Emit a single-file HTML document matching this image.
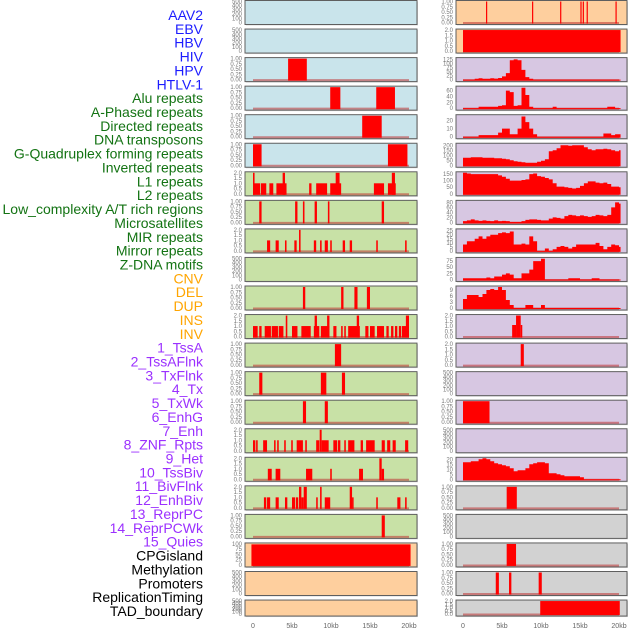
<!DOCTYPE html>
<html><head><meta charset="utf-8"><style>
html,body{margin:0;padding:0;background:#fff;width:630px;height:630px;overflow:hidden}
svg{display:block;font-family:"Liberation Sans",sans-serif}
</style></head><body>
<svg id="chart" width="630" height="630" viewBox="0 0 630 630" xmlns="http://www.w3.org/2000/svg"></svg>
<script>
const trackLabels = ["AAV2","EBV","HBV","HIV","HPV","HTLV-1","Alu repeats","A-Phased repeats","Directed repeats","DNA transposons","G-Quadruplex forming repeats","Inverted repeats","L1 repeats","L2 repeats","Low_complexity A/T rich regions","Microsatellites","MIR repeats","Mirror repeats","Z-DNA motifs","CNV","DEL","DUP","INS","INV","1_TssA","2_TssAFlnk","3_TxFlnk","4_Tx","5_TxWk","6_EnhG","7_Enh","8_ZNF_Rpts","9_Het","10_TssBiv","11_BivFlnk","12_EnhBiv","13_ReprPC","14_ReprPCWk","15_Quies","CPGisland","Methylation","Promoters","ReplicationTiming","TAD_boundary"];
const labelGroupColors = ["#1c1cff","#1c1cff","#1c1cff","#1c1cff","#1c1cff","#1c1cff","#137313","#137313","#137313","#137313","#137313","#137313","#137313","#137313","#137313","#137313","#137313","#137313","#137313","#ffa500","#ffa500","#ffa500","#ffa500","#ffa500","#9b30ff","#9b30ff","#9b30ff","#9b30ff","#9b30ff","#9b30ff","#9b30ff","#9b30ff","#9b30ff","#9b30ff","#9b30ff","#9b30ff","#9b30ff","#9b30ff","#9b30ff","#000","#000","#000","#000","#000"];
const xTickLabels = ["0","5kb","10kb","15kb","20kb"];
const xTickValues = [0,5,10,15,20];

const T500=[0,100,200,300,400,500], T1=[0,0.25,0.5,0.75,1], T2=[0,0.5,1,1.5,2];
const L1f=["0.00","0.25","0.50","0.75","1.00"], L2f=["0.0","0.5","1.0","1.5","2.0"];
const BLUE="#c9e4eb", GREEN="#c8e1a6", PEACH="#fecf9e", PURPLE="#d7c7e2", GREY="#d2d2d2";

const leftBg = [BLUE,BLUE,BLUE,BLUE,BLUE,BLUE,GREEN,GREEN,GREEN,GREEN,GREEN,GREEN,GREEN,GREEN,GREEN,GREEN,GREEN,GREEN,GREEN,PEACH,PEACH,PEACH];
const leftMax = [500,500,1,1,1,1,2,1,2,500,1,2,1,1,1,2,2,2,1,100,500,500];
const leftTicks = [T500,T500,T1,T1,T1,T1,T2,T1,T2,T500,T1,T2,T1,T1,T1,T2,T2,T2,T1,[0,25,50,75,100],T500,T500];
const leftSegments = [
 [],[],
 [[4.5,6.9,1]],
 [[9.9,11.2,1],[15.8,18.2,1]],
 [[14.0,16.5,1]],
 [[0,1.1,1],[17.3,19.8,1]],
 [[0,0.9,1],[1.0,1.7,1],[2.1,2.6,1],[3.0,4.3,1],[7.2,7.5,1],[8.1,9.5,1],[9.9,11.3,1],[15.5,16.8,1],[17.3,18.3,1],[0,0.2,2],[3.8,4.1,2],[10.6,11.1,2],[17.8,18.2,2]],
 [[0.8,1.1,1],[5.4,5.7,1],[6.4,6.6,1],[7.9,8.2,1],[9.6,9.8,1],[16.5,16.8,1]],
 [[1.8,2.2,1],[2.9,3.3,1],[4.1,4.3,1],[5.3,5.6,1],[5.9,6.1,2],[7.8,8.1,1],[8.6,8.8,1],[9.2,9.6,1],[9.9,10.1,1],[11.5,11.8,1],[12.4,12.7,1],[15.8,16.0,1],[19.5,19.7,1]],
 [],
 [[6.4,6.7,1],[11.3,11.6,1],[13.0,13.4,1],[14.6,15.0,1]],
 [[0,0.6,1],[0.8,1.1,1],[1.5,2.3,1],[2.4,3.2,1],[3.3,3.9,1],[5.0,5.7,1],[6.2,7.4,1],[7.8,8.5,1],[8.7,9.8,1],[10.3,10.7,1],[11.3,11.5,1],[11.7,11.9,1],[12.2,13.7,1],[14.4,14.8,1],[15.0,15.6,1],[15.9,16.8,1],[17.1,17.4,1],[17.7,18.0,1],[18.2,18.5,1],[18.7,19.0,1],[19.1,20.0,1],[4.2,4.4,2],[7.9,8.2,2],[9.5,9.8,2],[13.3,13.6,2],[19.6,20.0,2]],
 [[10.5,11.3,1]],
 [[0.8,1.2,1],[8.7,9.4,1],[11.4,11.8,1]],
 [[6.4,6.8,1],[9.2,9.6,1]],
 [[0,0.3,1],[0.4,0.6,1],[1.3,1.8,1],[2.7,2.9,1],[3.1,3.3,1],[4.0,4.2,1],[4.9,5.1,1],[5.6,6.4,1],[6.7,6.9,1],[8.1,8.5,1],[8.8,9.7,1],[10.3,10.8,1],[10.9,11.2,1],[11.7,11.9,1],[12.2,13.0,1],[13.8,14.1,1],[14.5,15.6,1],[16.5,16.9,1],[17.2,17.6,1],[17.9,18.3,1],[19.5,19.9,1],[8.55,8.8,2]],
 [[1.9,2.4,1],[2.9,3.5,1],[6.8,7.6,1],[9.9,10.1,1],[13.6,14.1,1],[16.5,16.8,1],[16.2,16.5,2]],
 [[1.4,1.7,1],[1.8,2.2,1],[2.9,3.3,1],[4.1,4.4,1],[5.0,5.4,1],[5.5,5.8,1],[6.2,6.5,1],[8.1,8.3,1],[9.2,9.9,1],[12.7,12.9,1],[15.8,16.0,1],[18.5,18.9,1],[19.5,19.7,1],[5.9,6.2,2],[6.5,6.9,2],[8.6,8.8,2],[12.4,12.7,2]],
 [[16.5,16.9,1]],
 [[-0.2,20.2,98]],
 [],[]
];

const rightBg = [PEACH,PEACH,PURPLE,PURPLE,PURPLE,PURPLE,PURPLE,PURPLE,PURPLE,PURPLE,PURPLE,PURPLE,PURPLE,PURPLE,PURPLE,PURPLE,PURPLE,GREY,GREY,GREY,GREY,GREY];
const rightMax = [1,2,130,72,26,210,160,84,26,86,10.5,2,2,500,1,500,21,1,500,1,1,2];
const rightTicks = [T1,T2,[0,25,50,75,100,125],[0,20,40,60],[0,10,20],[0,50,100,150,200],[0,50,100,150],[0,20,40,60,80],[0,5,10,15,20,25],[0,25,50,75],[0,3,6,9],T2,T2,T500,T1,T500,[0,5,10,15,20],T1,T500,T1,T1,T2];
const rightSegments = [
 [[2.95,3.1,1],[8.85,9.0,1],[12.45,12.6,1],[15.05,15.2,1],[15.35,15.5,1],[15.85,16.0,1],[19.55,19.7,1]],
 [[0,20.2,2]],
 [],[],[],[],[],[],[],[],[],
 [[6.3,6.8,1.1],[6.8,7.4,2],[7.4,7.6,1.1]],
 [[7.4,7.8,2]],
 [],
 [[0,3.4,1]],
 [],[],
 [[5.6,6.9,1]],
 [],
 [[5.6,6.8,1]],
 [[4.2,4.6,1],[5.9,6.2,1],[9.7,10.1,1]],
 [[9.9,20.1,2]]
];
// 0.5kb-bin profiles (bin i covers i*0.5 .. i*0.5+0.5 kb)
const hpvProfile   = [0,0,0,5,8,5,5,8,6,10,20,40,120,125,120,60,15,5,0,0,0,0,0,0,0,0,0,0,0,0,0,0,0,0,0,0,0,0,0,0,0];
const htlvProfile  = [0,0,0,0,5,5,5,5,5,8,10,60,55,8,10,70,45,5,0,0,0,0,0,5,0,0,0,0,0,0,0,0,0,0,0,0,0,5,5,0,0];
const aluProfile   = [0,0,0,0,2,2,2,2,2,5,10,10,3,3,10,25,18,10,3,0,0,0,0,0,0,0,0,0,0,0,0,0,0,0,0,0,4,4,2,3,3];
const aphProfile   = [75,75,80,80,80,75,75,75,70,70,65,60,50,40,35,30,25,25,25,35,45,60,140,150,170,200,200,195,200,200,200,180,160,150,160,160,165,160,150,140,150];
const dirProfile   = [160,155,150,150,150,150,150,150,150,140,130,115,100,100,100,105,110,150,155,135,130,120,110,80,55,55,50,45,40,45,60,80,95,95,85,80,85,75,55,55,50];
const dnaProfile   = [5,8,12,8,6,8,6,5,8,5,6,5,2,2,2,5,10,12,12,10,8,8,15,20,18,15,25,30,28,25,28,25,22,25,30,28,25,30,60,80,75];
const gquadProfile = [8,12,12,15,18,15,18,20,20,22,23,22,24,8,8,9,8,18,12,0,0,3,0,2,5,6,5,3,5,8,8,8,8,8,10,6,2,5,8,7,5];
const invProfile   = [5,5,5,5,5,5,8,5,12,12,20,25,20,5,5,25,25,40,75,75,85,0,0,0,0,0,0,5,5,5,0,0,0,5,5,0,0,0,0,0,0];
const l1Profile    = [4.5,6.5,6.5,6.5,5.5,7,9,9.5,9,10.5,9,4,1.5,0,0,0,1.5,1.5,0,0,1.5,0,0,0,0,0,0,0,0,0,0,0,0,0,0,0,0,0,0,0,0];
const lowProfile   = [17,17,18,18,20,21,20,18,16,15,14,13,11,8,9,9,11,15,16,17,17,16,6,6,5,4,3,3,3,3,2,0,0,0,0,0,0,0,0,0,0];
const rightProfiles = {2:hpvProfile,3:htlvProfile,4:aluProfile,5:aphProfile,6:dirProfile,7:dnaProfile,8:gquadProfile,9:invProfile,10:l1Profile,16:lowProfile};

const NS="http://www.w3.org/2000/svg";
const svg=document.getElementById('chart');
function mk(tag,attrs,parent){const e=document.createElementNS(NS,tag);for(const k in attrs)e.setAttribute(k,attrs[k]);(parent||svg).appendChild(e);return e;}
const xL=kb=>253+kb*7.8, xR=kb=>463+kb*7.8;
const rowTop=i=>0.5+i*28.55, rowH=i=>(i===21?16:24);
function fmtTick(v,ticks){if(ticks===T1)return L1f[ticks.indexOf(v)];if(ticks===T2)return L2f[ticks.indexOf(v)];return String(v);}

// labels
trackLabels.forEach((t,i)=>{
  const e=mk('text',{x:203,y:15+i*13.86+5,'text-anchor':'end','font-size':14,fill:labelGroupColors[i]});
  e.textContent=t;
  
  
});

function panel(side,i,bg,ymax,ticks,segs,profile){
  const px=side==='L'?245:456, pw=side==='L'?172:171, xf=side==='L'?xL:xR;
  const top=rowTop(i), h=rowH(i), bot=top+h;
  const y=v=>bot-2-(v/ymax)*(h-3);
  const g=mk('g',{});
  
  
  mk('rect',{x:px+1,y:top+1,width:pw,height:h,fill:'#d8d8d8'},g);
  mk('rect',{x:px,y:top,width:pw,height:h,fill:bg,stroke:'#5f5f5f','stroke-width':1},g);
  const hasData=segs.length>0||profile;
  if(hasData){
    mk('line',{x1:xf(0),x2:xf(20),y1:bot-1.5,y2:bot-1.5,stroke:'rgba(190,50,50,0.55)','stroke-width':2},g);
  }
  segs.forEach(s=>{
    const yy=Math.max(top+0.5,y(s[2]));
    const r=mk('rect',{x:xf(s[0]),y:yy,width:Math.max(1.2,xf(s[1])-xf(s[0])),height:bot-1-yy,fill:'#ff0000'},g);
    
    
  });
  if(profile){
    let d='M'+xf(0)+','+(bot-1);
    profile.forEach((v,k)=>{const x0=xf(Math.min(k*0.5,20.2)),x1=xf(Math.min(k*0.5+0.5,20.2));const yy=Math.max(top+0.5,y(v));d+=' L'+x0+','+yy+' L'+x1+','+yy;});
    d+=' L'+xf(20.2)+','+(bot-1)+' Z';
    const p=mk('path',{d:d,fill:'#ff0000'},g);
    
    
  }
  ticks.forEach(v=>{
    const t=mk('text',{x:px-3,y:y(v)+2,'text-anchor':'end','font-size':6,fill:'#777'},g);
    t.textContent=fmtTick(v,ticks);
    
    
  });
}
for(let i=0;i<22;i++){
  panel('L',i,leftBg[i],leftMax[i],leftTicks[i],leftSegments[i],null);
  panel('R',i,rightBg[i],rightMax[i],rightTicks[i],rightSegments[i],rightProfiles[i]||null);
}
xTickValues.forEach((v,k)=>{
  [xL,xR].forEach((f,s)=>{
    const t=mk('text',{x:f(v),y:628,'text-anchor':'middle','font-size':7,fill:'#666'});
    t.textContent=xTickLabels[k];
    
    
  });
});
</script>
</body></html>
